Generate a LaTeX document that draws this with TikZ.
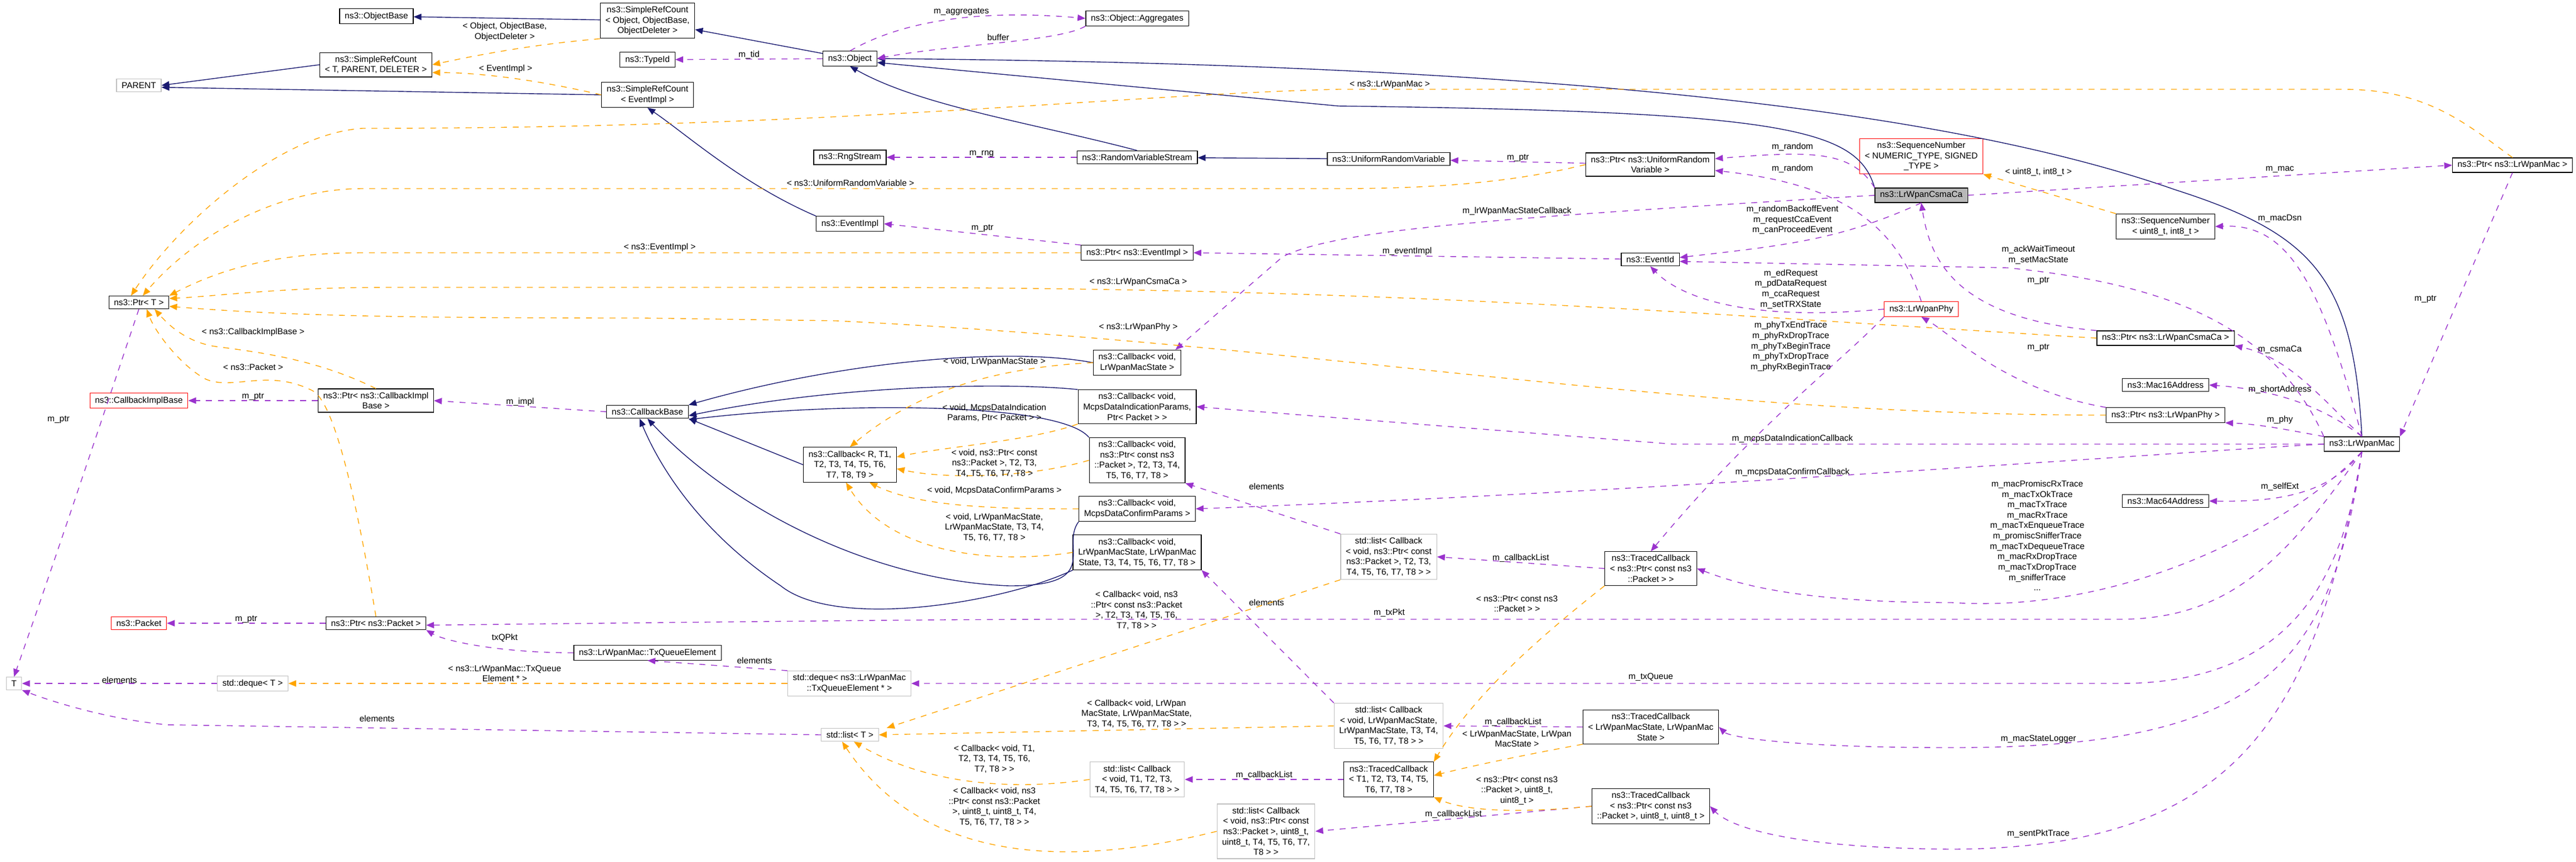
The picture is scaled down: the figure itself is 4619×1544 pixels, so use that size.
\documentclass[tikz,border=0pt]{standalone}
\usepackage{fontspec}
\setmainfont{Liberation Sans}
\usetikzlibrary{arrows.meta}
\definecolor{inhcol}{RGB}{25,25,112}
\definecolor{usecol}{RGB}{154,50,205}
\definecolor{tplcol}{RGB}{255,165,0}
\begin{document}
\begin{tikzpicture}[x=0.01cm,y=-0.01cm,
  font=\fontsize{4.4}{5.3}\selectfont,
  cls/.style={draw=black,line width=0.35pt,fill=white,inner xsep=2.6pt,inner ysep=1.7pt,align=center},
  ext/.style={cls,draw=black!25},
  miss/.style={cls,draw=red},
  cur/.style={cls,fill=black!28},
  lbl/.style={inner sep=0pt,align=center},
  inh/.style={draw=inhcol,line width=0.4pt,-{Triangle[length=4pt,width=3.2pt]}},
  use/.style={draw=usecol,line width=0.4pt,dashed,-{Triangle[length=4pt,width=3.2pt]}},
  tpl/.style={draw=tplcol,line width=0.4pt,dashed,-{Triangle[length=4pt,width=3.2pt]}}]
\useasboundingbox (0,0) rectangle (4619,1544);

% classes
\node[cls]  (objbase) at (675,29)   {ns3::ObjectBase};
\node[cls]  (srcobj)  at (1161,37)  {ns3::SimpleRefCount\\< Object, ObjectBase,\\ObjectDeleter >};
\node[cls]  (typeid)  at (1161,107) {ns3::TypeId};
\node[cls]  (srctpl)  at (674,116)  {ns3::SimpleRefCount\\< T, PARENT, DELETER >};
\node[ext]  (parent)  at (249,153)  {PARENT};
\node[cls]  (srcev)   at (1161,170) {ns3::SimpleRefCount\\< EventImpl >};
\node[cls]  (ptrt)    at (249,542)  {ns3::Ptr< T >};
\node[miss] (cbimpl)  at (249,718)  {ns3::CallbackImplBase};
\node[cls]  (ptrcbi)  at (674,718)  {ns3::Ptr< ns3::CallbackImpl\\Base >};
\node[cls]  (cbbase)  at (1161,738) {ns3::CallbackBase};
\node[cls]  (object)  at (1524,105) {ns3::Object};
\node[cls]  (aggr)    at (2039,33)  {ns3::Object::Aggregates};
\node[cls]  (rng)     at (1524,282) {ns3::RngStream};
\node[cls]  (rvs)     at (2039,282) {ns3::RandomVariableStream};
\node[cls]  (evimpl)  at (1524,401) {ns3::EventImpl};
\node[cls]  (ptrev)   at (2039,453) {ns3::Ptr< ns3::EventImpl >};
\node[cls]  (cbstate) at (2039,650) {ns3::Callback< void,\\LrWpanMacState >};
\node[cls]  (cbind)   at (2039,729) {ns3::Callback< void,\\McpsDataIndicationParams,\\Ptr< Packet > >};
\node[cls]  (urv)     at (2490,285) {ns3::UniformRandomVariable};
\node[cls]  (ptrurv)  at (2959,295) {ns3::Ptr< ns3::UniformRandom\\Variable >};
\node[miss] (seqtpl)  at (3445,280) {ns3::SequenceNumber\\< NUMERIC\_TYPE, SIGNED\\\_TYPE >};
\node[cur]  (csma)    at (3445,350) {ns3::LrWpanCsmaCa};
\node[cls]  (evid)    at (2959,465) {ns3::EventId};
\node[miss] (phy)     at (3445,554) {ns3::LrWpanPhy};
\node[cls]  (ptrmac)  at (4505,296) {ns3::Ptr< ns3::LrWpanMac >};
\node[cls]  (seq8)    at (3883,406) {ns3::SequenceNumber\\< uint8\_t, int8\_t >};
\node[cls]  (ptrcsma) at (3883,606) {ns3::Ptr< ns3::LrWpanCsmaCa >};
\node[cls]  (mac16)   at (3883,690) {ns3::Mac16Address};
\node[cls]  (ptrphy)  at (3883,744) {ns3::Ptr< ns3::LrWpanPhy >};
\node[cls]  (mac)     at (4235,796) {ns3::LrWpanMac};
\node[cls]  (mac64)   at (3883,898) {ns3::Mac64Address};
\node[miss] (packet)  at (249,1117) {ns3::Packet};
\node[cls]  (ptrpkt)  at (674,1117) {ns3::Ptr< ns3::Packet >};
\node[cls]  (txqe)    at (1161,1170) {ns3::LrWpanMac::TxQueueElement};
\node[ext]  (t)       at (25,1225)  {T};
\node[ext]  (dequet)  at (453,1225) {std::deque< T >};
\node[cls]  (cbtpl)   at (1524,833) {ns3::Callback< R, T1,\\T2, T3, T4, T5, T6,\\T7, T8, T9 >};
\node[cls]  (cbpkt)   at (2039,825) {ns3::Callback< void,\\ns3::Ptr< const ns3\\::Packet >, T2, T3, T4,\\T5, T6, T7, T8 >};
\node[cls]  (cbconf)  at (2039,912) {ns3::Callback< void,\\McpsDataConfirmParams >};
\node[cls]  (cbss)    at (2039,990) {ns3::Callback< void,\\LrWpanMacState, LrWpanMac\\State, T3, T4, T5, T6, T7, T8 >};
\node[ext]  (dequeq)  at (1523,1225) {std::deque< ns3::LrWpanMac\\::TxQueueElement * >};
\node[ext]  (listt)   at (1524,1317) {std::list< T >};
\node[ext]  (listt1)  at (2039,1397) {std::list< Callback\\< void, T1, T2, T3,\\T4, T5, T6, T7, T8 > >};
\node[ext]  (listpu)  at (2270,1490) {std::list< Callback\\< void, ns3::Ptr< const\\ns3::Packet >, uint8\_t,\\uint8\_t, T4, T5, T6, T7,\\T8 > >};
\node[ext]  (listpkt) at (2490,998)  {std::list< Callback\\< void, ns3::Ptr< const\\ns3::Packet >, T2, T3,\\T4, T5, T6, T7, T8 > >};
\node[cls]  (tcpkt)   at (2960,1019) {ns3::TracedCallback\\< ns3::Ptr< const ns3\\::Packet > >};
\node[ext]  (listss)  at (2490,1301) {std::list< Callback\\< void, LrWpanMacState,\\LrWpanMacState, T3, T4,\\T5, T6, T7, T8 > >};
\node[cls]  (tcss)    at (2960,1303) {ns3::TracedCallback\\< LrWpanMacState, LrWpanMac\\State >};
\node[cls]  (tctpl)   at (2490,1397) {ns3::TracedCallback\\< T1, T2, T3, T4, T5,\\T6, T7, T8 >};
\node[cls]  (tcpu)    at (2960,1445) {ns3::TracedCallback\\< ns3::Ptr< const ns3\\::Packet >, uint8\_t, uint8\_t >};

% inheritance
\draw[inh] (srcobj) -- (objbase);
\draw[inh] (srctpl.west) -- (parent.east);
\draw[inh] (srcev.west) -- ([yshift=-1pt]parent.east);
\draw[inh] (object) -- (srcobj);
\draw[inh] (evimpl.north west) .. controls (1330,330) and (1230,240) .. (srcev.south);
\draw[inh] (rvs.north) .. controls (1850,220) and (1650,190) .. (object.south);
\draw[inh] (urv) -- (rvs);
\draw[inh] (csma.north west) .. controls (3330,230) and (3200,200) .. (2400,190) -- ([yshift=-2pt]object.east);
\draw[inh] (mac.north) .. controls (4220,500) and (4150,420) .. (3900,340)
  .. controls (3500,200) and (2800,115) .. (object.east);
\draw[inh] (cbstate.west) .. controls (1800,620) and (1500,650) .. (cbbase.north east);
\draw[inh] (cbind.north west) .. controls (1800,685) and (1500,690) .. ([yshift=-2pt]cbbase.east);
\draw[inh] (cbpkt.north west) .. controls (1900,720) and (1500,720) .. ([yshift=-4pt]cbbase.east);
\draw[inh] (cbtpl.west) -- (cbbase.south east);
\draw[inh] (cbconf.south west) .. controls (1900,980) and (1980,1050) .. (1810,1050)
  .. controls (1550,1040) and (1300,900) .. (cbbase.south);
\draw[inh] (cbss.south west) .. controls (1800,1080) and (1500,1130) .. (1400,1050)
  .. controls (1250,950) and (1180,830) .. ([xshift=-4pt]cbbase.south);

% members
\draw[use] (object) -- node[lbl,above] {m\_tid} (typeid);
\draw[use] (object.north) .. controls (1640,25) and (1800,20) .. node[lbl,above=1pt] {m\_aggregates} (aggr.west);
\draw[use] (aggr.south west) .. controls (1900,75) and (1700,80) .. node[lbl,above=1pt] {buffer} (object.east);
\draw[use] (rvs) -- node[lbl,above] {m\_rng} (rng);
\draw[use] (ptrev.north west) -- node[lbl,above=1pt] {m\_ptr} (evimpl.east);
\draw[use] (ptrurv) -- node[lbl,above] {m\_ptr} (urv);
\draw[use] (csma.north west) .. controls (3320,270) and (3250,270) .. ([yshift=3pt]ptrurv.east);
\node[lbl] at (3214,263) {m\_random};
\draw[use] (phy.north) .. controls (3400,400) and (3300,330) .. ([yshift=-3pt]ptrurv.east);
\node[lbl] at (3214,302) {m\_random};
\draw[use] (csma.west) .. controls (2700,390) and (2400,410) .. (2300,460) -- ([xshift=-3pt]cbstate.north east);
\node[lbl] at (2720,378) {m\_lrWpanMacStateCallback};
\draw[use] (csma.south) .. controls (3300,430) and (3200,440) .. ([yshift=1pt]evid.east);
\node[lbl] at (3214,394) {m\_randomBackoffEvent\\m\_requestCcaEvent\\m\_canProceedEvent};
\draw[use] (evid) -- node[lbl,above] {m\_eventImpl} (ptrev.east);
\draw[use] (phy.west) .. controls (3100,580) and (3000,520) .. (evid.south);
\node[lbl] at (3211,518) {m\_edRequest\\m\_pdDataRequest\\m\_ccaRequest\\m\_setTRXState};
\draw[use] (mac.north west) .. controls (4080,590) and (3900,510) .. (3600,480) -- ([yshift=-1pt]evid.east);
\node[lbl] at (3655,457) {m\_ackWaitTimeout\\m\_setMacState};
\draw[use] (ptrcsma.north west) .. controls (3500,570) and (3460,460) .. (csma.south);
\node[lbl] at (3655,503) {m\_ptr};
\draw[use] (ptrphy.north west) .. controls (3600,700) and (3500,600) .. (phy.south);
\node[lbl] at (3655,623) {m\_ptr};
\draw[use] (phy.south west) .. controls (3300,650) and (3150,760) .. (tcpkt.north);
\node[lbl] at (3211,621) {m\_phyTxEndTrace\\m\_phyRxDropTrace\\m\_phyTxBeginTrace\\m\_phyTxDropTrace\\m\_phyRxBeginTrace};
\draw[use] (csma.east) -- (ptrmac.west);
\node[lbl] at (4088,304) {m\_mac};
\draw[use] (ptrmac.south) -- (mac.north east);
\node[lbl] at (4349,536) {m\_ptr};
\draw[use] (mac.north) .. controls (4160,500) and (4100,400) .. (seq8.east);
\node[lbl] at (4088,392) {m\_macDsn};
\draw[use] (mac.north) .. controls (4150,700) and (4100,640) .. (ptrcsma.south east);
\node[lbl] at (4088,627) {m\_csmaCa};
\draw[use] (mac.north) .. controls (4180,740) and (4100,700) .. (mac16.east);
\node[lbl] at (4088,698) {m\_shortAddress};
\draw[use] (mac.north west) .. controls (4100,770) and (4050,760) .. (ptrphy.south east);
\node[lbl] at (4088,752) {m\_phy};
\draw[use] (mac.south) .. controls (4180,880) and (4100,900) .. (mac64.east);
\node[lbl] at (4088,872) {m\_selfExt};
\draw[use] (mac.west) -- (3000,796) -- (cbind.east);
\node[lbl] at (3214,786) {m\_mcpsDataIndicationCallback};
\draw[use] (mac.west) .. controls (3900,810) and (3000,880) .. (cbconf.east);
\node[lbl] at (3214,846) {m\_mcpsDataConfirmCallback};
\draw[use] (mac.south) .. controls (4100,950) and (3800,1100) .. (3500,1080) .. controls (3200,1080) and (3100,1040) .. (tcpkt.east);
\node[lbl] at (3653,960) {m\_macPromiscRxTrace\\m\_macTxOkTrace\\m\_macTxTrace\\m\_macRxTrace\\m\_macTxEnqueueTrace\\m\_promiscSnifferTrace\\m\_macTxDequeueTrace\\m\_macRxDropTrace\\m\_macTxDropTrace\\m\_snifferTrace\\...};
\draw[use] (mac.south) .. controls (4100,1000) and (4000,1110) .. (3800,1110) -- (1900,1110)
  .. controls (1800,1110) and (1700,1110) .. ([yshift=-1pt]ptrpkt.east);
\node[lbl] at (2491,1098) {m\_txPkt};
\draw[use] (mac.south) .. controls (4200,1050) and (4100,1225) .. (3800,1225) -- (dequeq.east);
\node[lbl] at (2960,1214) {m\_txQueue};
\draw[use] (mac.south) .. controls (4180,1200) and (4050,1340) .. (3500,1340) .. controls (3200,1340) and (3100,1320) .. (tcss.east);
\node[lbl] at (3655,1325) {m\_macStateLogger};
\draw[use] (mac.south) .. controls (4150,1300) and (4000,1520) .. (3500,1522) .. controls (3200,1520) and (3100,1480) .. (tcpu.east);
\node[lbl] at (3655,1494) {m\_sentPktTrace};
\draw[use] (ptrcbi) -- node[lbl,above] {m\_ptr} (cbimpl);
\draw[use] (cbbase.west) -- node[lbl,above] {m\_impl} (ptrcbi.east);
\draw[use] (ptrpkt) -- node[lbl,above] {m\_ptr} (packet);
\draw[use] (txqe.west) .. controls (900,1170) and (800,1150) .. (ptrpkt.south east);
\node[lbl] at (905,1143) {txQPkt};
\draw[use] (dequeq.north west) -- (txqe.south);
\node[lbl] at (1353,1184) {elements};
\draw[use] (dequet) -- node[lbl,above] {elements} (t);
\draw[use] (listt.west) -- (300,1299) .. controls (200,1290) and (100,1260) .. (t.south east);
\node[lbl] at (676,1288) {elements};
\draw[use] (ptrt.south) .. controls (200,700) and (100,1000) .. (t.north);
\node[lbl] at (105,752) {m\_ptr};
\draw[use] (listpkt.north west) -- (cbpkt.south east);
\node[lbl] at (2271,872) {elements};
\draw[use] (listss.north west) -- (cbss.south east);
\node[lbl] at (2271,1080) {elements};
\draw[use] (tcpkt.west) -- node[lbl,above] {m\_callbackList} (listpkt.east);
\draw[use] (tcss.west) -- node[lbl,above] {m\_callbackList} (listss.east);
\draw[use] (tctpl.west) -- node[lbl,above] {m\_callbackList} (listt1.east);
\draw[use] (tcpu.west) -- node[lbl,above] {m\_callbackList} (listpu.east);

% template instances
\draw[tpl] (srcobj.south west) .. controls (950,80) and (850,100) .. (srctpl.east);
\node[lbl] at (905,57) {< Object, ObjectBase,\\ObjectDeleter >};
\draw[tpl] (srcev.west) .. controls (950,140) and (850,130) .. node[lbl,above=2pt] {< EventImpl >} ([yshift=-4pt]srctpl.east);
\draw[tpl] (ptrmac.north) .. controls (4420,220) and (4350,160) .. (4200,160) -- (2400,160)
  .. controls (2000,170) and (1500,230) .. (650,230)
  .. controls (500,240) and (320,400) .. ([xshift=-4pt]ptrt.north);
\node[lbl] at (2492,152) {< ns3::LrWpanMac >};
\draw[tpl] (ptrurv.west) .. controls (2700,330) and (2550,338) .. (2400,338) -- (650,338)
  .. controls (500,338) and (350,420) .. ([xshift=2pt]ptrt.north);
\node[lbl] at (1525,328) {< ns3::UniformRandomVariable >};
\draw[tpl] (ptrev.west) -- (650,453) .. controls (500,453) and (400,480) .. (ptrt.north east);
\node[lbl] at (1183,443) {< ns3::EventImpl >};
\draw[tpl] (ptrcsma.west) .. controls (3000,560) and (2500,515) .. (1500,515) -- (700,515)
  .. controls (500,515) and (400,530) .. ([yshift=2pt]ptrt.east);
\node[lbl] at (2041,506) {< ns3::LrWpanCsmaCa >};
\draw[tpl] (ptrphy.west) .. controls (3000,744) and (2400,620) .. (1500,575) -- (1150,570)
  .. controls (700,570) and (500,565) .. ([yshift=-2pt]ptrt.east);
\node[lbl] at (2041,586) {< ns3::LrWpanPhy >};
\draw[tpl] (ptrcbi.north) .. controls (560,640) and (450,630) .. (380,620) .. controls (330,610) and (300,580) .. ([xshift=8pt]ptrt.south);
\node[lbl] at (454,595) {< ns3::CallbackImplBase >};
\draw[tpl] (ptrpkt.north) .. controls (640,900) and (600,720) .. (560,700) .. controls (480,660) and (420,700) .. (370,680)
  .. controls (330,660) and (280,600) .. ([xshift=4pt]ptrt.south);
\node[lbl] at (454,658) {< ns3::Packet >};
\draw[tpl] (seq8.north west) -- (seqtpl.south east);
\node[lbl] at (3655,308) {< uint8\_t, int8\_t >};
\draw[tpl] (cbstate.west) .. controls (1750,660) and (1620,720) .. (cbtpl.north);
\node[lbl] at (1783,648) {< void, LrWpanMacState >};
\draw[tpl] (cbind.south west) .. controls (1850,790) and (1700,800) .. ([yshift=4pt]cbtpl.east);
\node[lbl] at (1783,740) {< void, McpsDataIndication\\Params, Ptr< Packet > >};
\draw[tpl] (cbpkt.west) .. controls (1850,855) and (1700,860) .. ([yshift=-2pt]cbtpl.east);
\node[lbl] at (1783,830) {< void, ns3::Ptr< const\\ns3::Packet >, T2, T3,\\T4, T5, T6, T7, T8 >};
\draw[tpl] (cbconf.west) .. controls (1800,912) and (1650,910) .. ([xshift=10pt]cbtpl.south);
\node[lbl] at (1783,879) {< void, McpsDataConfirmParams >};
\draw[tpl] (cbss.west) .. controls (1800,1010) and (1600,1000) .. ([xshift=-2pt]cbtpl.south);
\node[lbl] at (1783,945) {< void, LrWpanMacState,\\LrWpanMacState, T3, T4,\\T5, T6, T7, T8 >};
\draw[tpl] (dequeq.west) -- (dequet.east);
\node[lbl] at (905,1207) {< ns3::LrWpanMac::TxQueue\\Element * >};
\draw[tpl] (listpkt.south west) -- ([xshift=4pt]listt.north east);
\node[lbl] at (2038,1094) {< Callback< void, ns3\\::Ptr< const ns3::Packet\\>, T2, T3, T4, T5, T6,\\T7, T8 > >};
\draw[tpl] (listss.west) -- (listt.east);
\node[lbl] at (2038,1279) {< Callback< void, LrWpan\\MacState, LrWpanMacState,\\T3, T4, T5, T6, T7, T8 > >};
\draw[tpl] (listt1.west) .. controls (1800,1420) and (1650,1400) .. ([xshift=2pt]listt.south);
\node[lbl] at (1783,1360) {< Callback< void, T1,\\T2, T3, T4, T5, T6,\\T7, T8 > >};
\draw[tpl] (listpu.west) .. controls (1900,1560) and (1650,1540) .. ([xshift=-4pt]listt.south);
\node[lbl] at (1783,1446) {< Callback< void, ns3\\::Ptr< const ns3::Packet\\>, uint8\_t, uint8\_t, T4,\\T5, T6, T7, T8 > >};
\draw[tpl] (tcpkt.south west) .. controls (2750,1150) and (2640,1250) .. (tctpl.north east);
\node[lbl] at (2720,1082) {< ns3::Ptr< const ns3\\::Packet > >};
\draw[tpl] (tcss.south west) .. controls (2750,1350) and (2650,1370) .. ([yshift=2pt]tctpl.east);
\node[lbl] at (2720,1324) {< LrWpanMacState, LrWpan\\MacState >};
\draw[tpl] (tcpu.west) .. controls (2700,1460) and (2620,1450) .. (tctpl.south east);
\node[lbl] at (2720,1417) {< ns3::Ptr< const ns3\\::Packet >, uint8\_t,\\uint8\_t >};
\end{tikzpicture}
\end{document}
